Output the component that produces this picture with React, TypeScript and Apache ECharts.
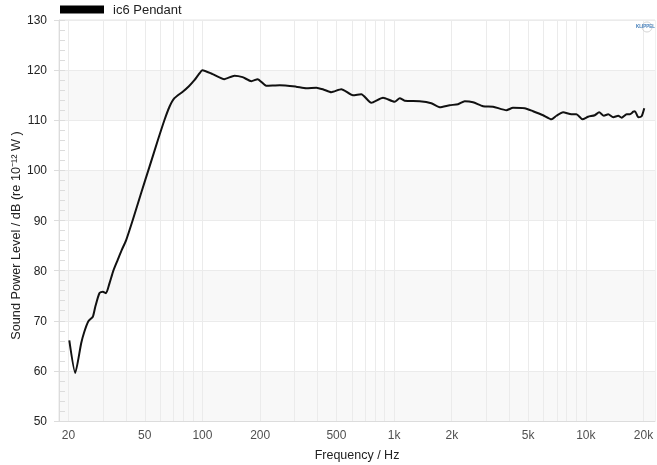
import React, { useEffect, useRef } from "react";
import * as echarts from "echarts";

const freqs = [20.2, 21.7, 23.3, 24.2, 25.4, 26.8, 27.6, 29.0, 30.2, 31.4, 32.7, 34.3, 36.1, 37.9, 40.0, 43.3, 47.8, 52.9, 58.5, 63.3, 67.3, 71.4, 78.9, 85, 90.8, 95, 100, 113, 130, 147, 162, 180, 194, 215, 253, 308, 348, 393, 430, 470, 530, 610, 674, 760, 875, 1006, 1070, 1135, 1359, 1563, 1729, 1950, 2155, 2335, 2580, 2912, 3282, 3855, 4170, 4800, 5305, 5985, 6620, 7030, 7610, 8410, 8930, 9610, 10280, 11140, 11740, 12420, 13090, 13900, 14760, 15380, 16330, 16990, 17690, 18050, 18790, 19550, 20180];
const splValues = [66.1, 59.6, 65.5, 67.8, 69.9, 70.8, 72.8, 75.5, 75.8, 75.5, 77.4, 80.0, 82.1, 84.1, 86.1, 90.1, 95.4, 100.7, 106.0, 110.0, 112.7, 114.4, 115.7, 116.8, 118.0, 119.0, 120.0, 119.2, 118.2, 118.9, 118.6, 117.8, 118.2, 116.9, 117.0, 116.7, 116.4, 116.5, 116.1, 115.6, 116.2, 115.0, 115.2, 113.5, 114.5, 113.7, 114.4, 113.9, 113.8, 113.4, 112.6, 113.0, 113.2, 113.8, 113.6, 112.8, 112.7, 112.0, 112.5, 112.4, 111.8, 111.0, 110.2, 110.9, 111.6, 111.2, 111.2, 110.2, 110.7, 111.0, 111.6, 110.9, 111.2, 110.6, 110.9, 110.5, 111.2, 111.2, 111.7, 111.8, 110.6, 110.8, 112.4];

const tickFreqs = [20, 50, 100, 200, 500, 1000, 2000, 5000, 10000, 20000];
const tickLabels = ["20", "50", "100", "200", "500", "1k", "2k", "5k", "10k", "20k"];
const gridFreqs = [20, 30, 40, 50, 60, 70, 80, 90, 100, 200, 300, 400, 500, 600, 700, 800, 900, 1000, 2000, 3000, 4000, 5000, 6000, 7000, 8000, 9000, 10000, 20000];
const freqMin = 17.85;
const freqMax = 22960;

const seriesName = "ic6 Pendant";
const FONT = "'Liberation Sans', Arial, sans-serif";
const lg = (f: number) => Math.log10(f);

export default function App() {
  const ref = useRef<HTMLDivElement>(null);
  useEffect(() => {
    if (!ref.current) return;
    const chart = echarts.init(ref.current, null, { renderer: "svg" });
    const yBase = {
      type: "value",
      min: 50,
      max: 130,
      interval: 10,
    };
    chart.setOption({
      animation: false,
      textStyle: { fontFamily: FONT },
      grid: {
        left: 59,
        right: 2,
        top: 20,
        bottom: 44,
        containLabel: false,
        outerBoundsMode: "none",
        show: true,
        borderColor: "#e4e4e4",
        borderWidth: 1,
      },
      legend: {
        data: [seriesName],
        left: 55,
        top: -2,
        itemWidth: 44,
        itemHeight: 8,
        icon: "rect",
        itemStyle: { color: "#000" },
        textStyle: { fontSize: 13, color: "#222", fontFamily: FONT, padding: [0, 0, 0, 4] },
      },
      xAxis: {
        type: "value",
        min: lg(freqMin),
        max: lg(freqMax),
        axisLine: { show: true, lineStyle: { color: "#dcdcdc" } },
        axisTick: { show: false },
        axisLabel: { show: false },
        splitLine: { show: false },
        name: "Frequency / Hz",
        nameLocation: "middle",
        nameGap: 27,
        nameMoveOverlap: false,
        nameTextStyle: { fontSize: 12.5, color: "#222", fontFamily: FONT },
      },
      yAxis: [
        {
          ...yBase,
          axisLine: { show: true, lineStyle: { color: "#dcdcdc" } },
          axisTick: { show: true, inside: false, length: 5, lineStyle: { color: "#dcdcdc" } },
          axisLabel: { fontSize: 12, color: "#222", margin: 12, fontFamily: FONT },
          splitLine: { show: true, lineStyle: { color: "#ebebeb" } },
          splitArea: { show: true, areaStyle: { color: ["#f8f8f8", "#ffffff"] } },
          name: "Sound Power Level / dB (re 10\u207B\u00B9\u00B2 W )",
          nameLocation: "middle",
          nameGap: 37,
          nameMoveOverlap: false,
          nameTextStyle: { fontSize: 12.7, color: "#222", fontFamily: FONT, padding: [0, 30, 0, 0] },
        },
        {
          ...yBase,
          position: "left",
          axisLine: { show: false },
          axisLabel: { show: false },
          axisTick: { show: true, inside: true, length: 6, lineStyle: { color: "#dcdcdc" } },
          minorTick: { show: true, splitNumber: 5, length: 6, lineStyle: { color: "#dcdcdc" } },
          splitLine: { show: false },
        },
      ],
      graphic: [
        {
          type: "circle",
          z: 100,
          shape: { cx: 647, cy: 27, r: 5 },
          style: { fill: "rgba(0,0,0,0)", stroke: "#c8c8c8", lineWidth: 0.8 },
          silent: true,
        },
        {
          type: "text",
          z: 101,
          left: 636,
          top: 24,
          style: { text: "KLIPPEL", fontSize: 4.5, fontWeight: "bold", fill: "#3d7ab8", fontFamily: FONT },
          silent: true,
        },
      ],
      series: [
        {
          type: "line",
          name: "grid",
          data: [],
          silent: true,
          z: 1,
          markLine: {
            silent: true,
            symbol: ["none", "none"],
            label: { show: false },
            lineStyle: { color: "#ebebeb", width: 1, type: "solid" },
            data: gridFreqs.map((f) => ({ xAxis: lg(f) })),
          },
        },
        {
          type: "scatter",
          name: "ticks",
          data: tickFreqs.map((f) => [lg(f), 50]),
          symbolSize: 0,
          clip: false,
          silent: true,
          z: 2,
          label: {
            show: true,
            position: "bottom",
            distance: 8,
            fontSize: 12,
            color: "#222",
            fontFamily: FONT,
            formatter: (p: any) => tickLabels[p.dataIndex],
          },
        },
        {
          type: "line",
          name: seriesName,
          data: freqs.map((f, i) => [lg(f), splValues[i]]),
          showSymbol: false,
          smooth: 0.2,
          z: 5,
          itemStyle: { color: "#000" },
          lineStyle: { color: "#111", width: 2 },
        },
      ],
    });
    return () => chart.dispose();
  }, []);
  return <div ref={ref} style={{ position: "fixed", left: 0, top: 0, width: 657, height: 465 }} />;
}
